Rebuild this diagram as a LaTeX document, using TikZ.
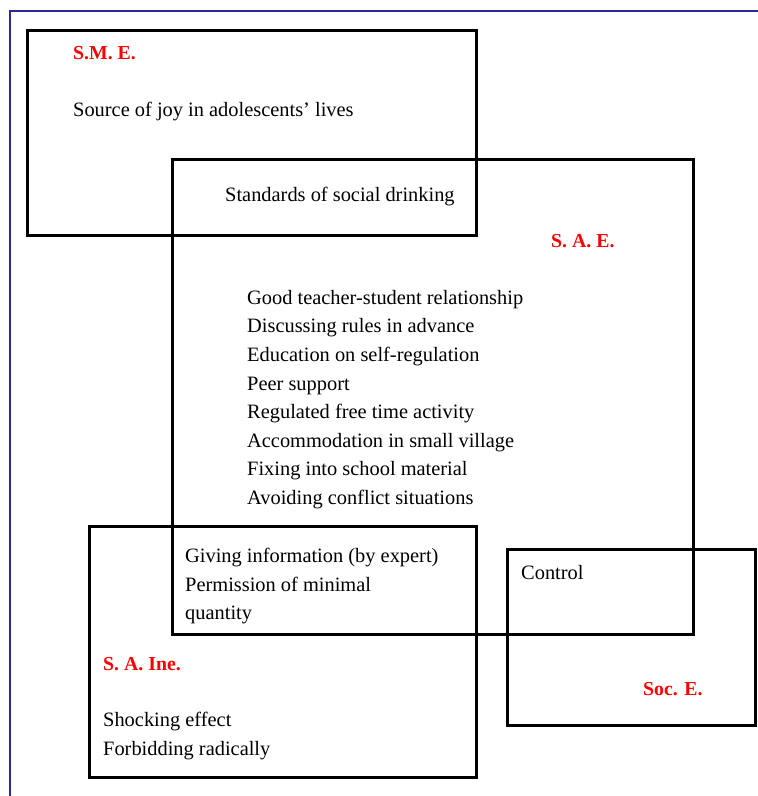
\documentclass[tikz,border=0pt]{standalone}
\usepackage{fontspec}
\setmainfont{Liberation Serif}
\definecolor{framenavy}{RGB}{40,40,150}
\tikzset{
  effbox/.style = {line width=3pt, draw=black},
  efflabel/.style = {anchor=west, text=red, font=\fontsize{19.8}{23}\selectfont\bfseries, inner sep=0pt},
  efftext/.style = {anchor=north west, align=left, inner sep=0pt, font=\fontsize{20.4}{28.6}\selectfont}
}
\begin{document}
\begin{tikzpicture}[x=1pt, y=-1pt]
        \useasboundingbox (0,0) rectangle (758,796);
        \draw[framenavy, line width=1.8pt] (10,796) -- (10,11) -- (758,11);
        % the four boxes
        \draw[effbox] (27,30) rectangle (476,235);
        \draw[effbox] (172,159) rectangle (693,634);
        \draw[effbox] (89,526) rectangle (476,777);
        \draw[effbox] (507,549) rectangle (755,725);
        % box labels
        \node[efflabel] (sme) at (73,53) {S.M. E.};
        \node[efflabel] (sae) at (551,241) {S. A. E.};
        \node[efflabel] (saine) at (103,664) {S. A. Ine.};
        \node[efflabel] (soce) at (643,689) {Soc. E.};
        % texts
        \node[efftext] (joy) at (73,102) {Source of joy in adolescents’ lives};
        \node[efftext] (standards) at (225,187) {Standards of social drinking};
        \node[efftext] (measures) at (247,290) {Good teacher-student relationship\\
          Discussing rules in advance\\
          Education on self-regulation\\
          Peer support\\
          Regulated free time activity\\
          Accommodation in small village\\
          Fixing into school material\\
          Avoiding conflict situations};
        \node[efftext] (giving) at (185,548) {Giving information (by expert)\\
          Permission of minimal\\
          quantity};
        \node[efftext] (control) at (521,565) {Control};
        \node[efftext] (shocking) at (103,712) {Shocking effect\\
          Forbidding radically};
\end{tikzpicture}
\end{document}
